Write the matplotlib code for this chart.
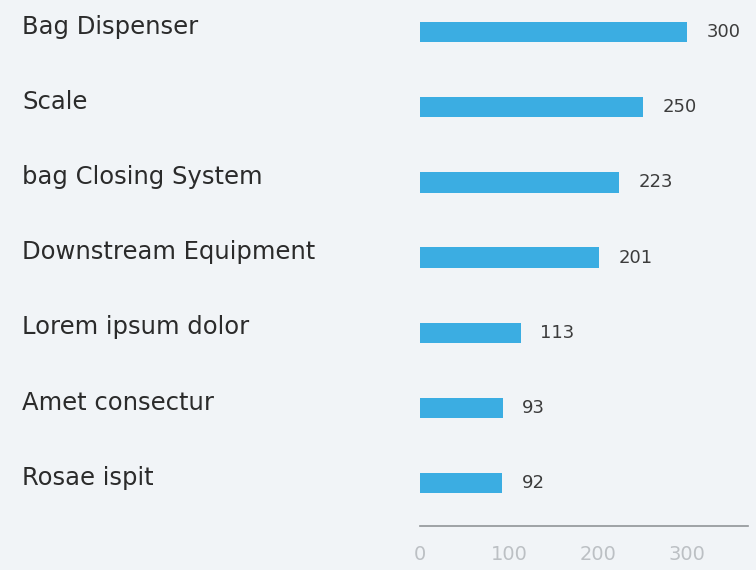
import matplotlib.pyplot as plt
from matplotlib.transforms import blended_transform_factory

categories = ["Bag Dispenser", "Scale", "bag Closing System", "Downstream Equipment",
              "Lorem ipsum dolor", "Amet consectur", "Rosae ispit"]
values = [300, 250, 223, 201, 113, 93, 92]
ticks = [0, 100, 200, 300]

bg = '#f1f4f7'
bar_color = '#3badE2'

fig = plt.figure(figsize=(7.56, 5.70), dpi=100, facecolor=bg)
ax = fig.add_axes([420 / 756, 1 - 526 / 570, 328 / 756, 526 / 570])
ax.set_facecolor(bg)

pos = list(range(len(categories)))
ax.barh(pos, values, height=0.27, color=bar_color)
ax.set_ylim(6.57, -0.425)
ax.set_xlim(0, 368)

# value labels next to the bars
for p, v in zip(pos, values):
    ax.annotate(str(v), (v, p), xytext=(14, 0), textcoords='offset points',
                va='center', ha='left', fontsize=13, color='#3c3c3c', family='DejaVu Sans')

# category names on the left
trans = blended_transform_factory(fig.transFigure, ax.transData)
for p, c in zip(pos, categories):
    ax.text(22 / 756, p - 0.07, c, transform=trans, ha='left', va='center',
            fontsize=17.5, color='#2b2b2b', family='DejaVu Sans')

ax.set_yticks([])
ax.set_xticks(ticks)
ax.set_xticklabels([str(t) for t in ticks], fontsize=14, color='#bcc0c4', family='DejaVu Sans')
ax.tick_params(axis='x', length=0, pad=14)
for s in ['top', 'right', 'left']:
    ax.spines[s].set_visible(False)
ax.spines['bottom'].set_color('#909498')
ax.spines['bottom'].set_linewidth(1.2)

fig.savefig('out.png', dpi=100, facecolor=bg)
